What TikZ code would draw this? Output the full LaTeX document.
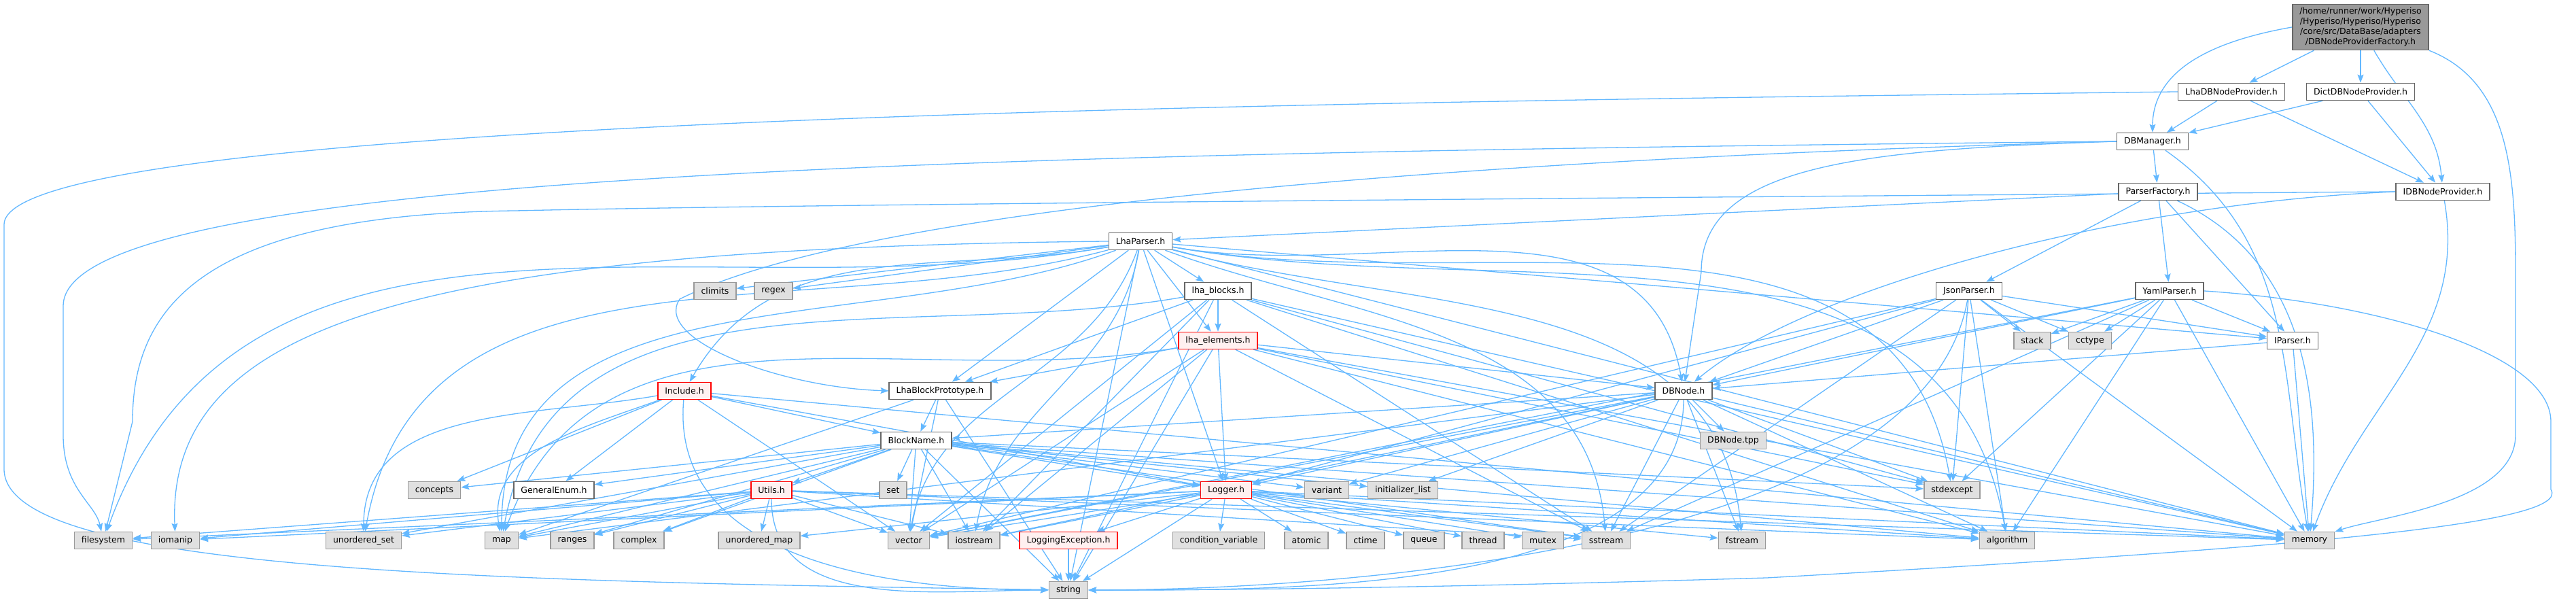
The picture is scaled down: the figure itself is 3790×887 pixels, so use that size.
\documentclass[tikz,border=0pt]{standalone}
\usepackage{fontspec}
\setmainfont{DejaVu Sans}
\usetikzlibrary{arrows.meta}
\definecolor{edgeblue}{HTML}{63B8FF}
\definecolor{sysfill}{HTML}{E0E0E0}
\definecolor{sysline}{HTML}{999999}
\definecolor{hdrline}{HTML}{666666}
\definecolor{rootfill}{HTML}{999999}
\definecolor{errfill}{HTML}{FFF0F0}
\pgfdeclarelayer{background}
\pgfsetlayers{background,main}
\tikzset{
  filebox/.style={draw, line width=0.15pt, minimum height=2.5pt, inner xsep=1.05pt,
    inner ysep=0pt, font=\fontsize{1.25}{1.5}\selectfont},
  hdrbox/.style={filebox, draw=hdrline, fill=white},
  sysbox/.style={filebox, draw=sysline, fill=sysfill},
  errbox/.style={filebox, draw=red, fill=errfill},
  rootbox/.style={filebox, draw=hdrline, fill=rootfill, align=center, inner ysep=0.5pt},
  dep/.style={draw=edgeblue, line width=0.13pt, -{Stealth[length=1.2pt,width=0.9pt,inset=0.2pt]}},
}

\begin{document}
\begin{tikzpicture}[x=0.1pt,y=0.1pt]
  \useasboundingbox (0,0) rectangle (3790,-887);
  % headers of the project
  \node[rootbox] (root) at (3473,-40) {/home/runner/work/Hyperiso\\/Hyperiso/Hyperiso/Hyperiso\\/core/src/DataBase/adapters\\/DBNodeProviderFactory.h};
  \node[hdrbox] (ldp) at (3283,-135) {LhaDBNodeProvider.h};
  \node[hdrbox] (ddp) at (3473,-135) {DictDBNodeProvider.h};
  \node[hdrbox] (dbm) at (3167,-208) {DBManager.h};
  \node[hdrbox] (pf) at (3175,-282) {ParserFactory.h};
  \node[hdrbox] (idp) at (3594,-282) {IDBNodeProvider.h};
  \node[hdrbox] (lp) at (1678,-355) {LhaParser.h};
  \node[hdrbox] (lb) at (1792,-428) {lha\_blocks.h};
  \node[hdrbox] (jp) at (2897,-428) {JsonParser.h};
  \node[hdrbox] (yp) at (3192,-428) {YamlParser.h};
  \node[errbox] (le) at (1792,-501) {lha\_elements.h};
  \node[hdrbox] (ip) at (3373,-501) {IParser.h};
  \node[errbox] (inc) at (1007,-575) {Include.h};
  \node[hdrbox] (lbp) at (1383,-575) {LhaBlockPrototype.h};
  \node[hdrbox] (dbn) at (2477,-575) {DBNode.h};
  \node[hdrbox] (bn) at (1348,-648) {BlockName.h};
  \node[hdrbox] (genum) at (815,-721) {GeneralEnum.h};
  \node[errbox] (utils) at (1135,-721) {Utils.h};
  \node[errbox] (logger) at (1804,-721) {Logger.h};
  \node[errbox] (logexc) at (1572,-795) {LoggingException.h};
  % system headers
  \node[sysbox] (climits) at (1052,-428) {climits};
  \node[sysbox] (regex) at (1138,-428) {regex};
  \node[sysbox] (stack) at (2990,-501) {stack};
  \node[sysbox] (cctype) at (3075,-501) {cctype};
  \node[sysbox] (tpp) at (2550,-648) {DBNode.tpp};
  \node[sysbox] (concepts) at (639,-721) {concepts};
  \node[sysbox] (set) at (1314,-721) {set};
  \node[sysbox] (variant) at (1952,-721) {variant};
  \node[sysbox] (initlist) at (2064,-721) {initializer\_list};
  \node[sysbox] (stdexcept) at (2872,-721) {stdexcept};
  \node[sysbox] (filesystem) at (152,-795) {filesystem};
  \node[sysbox] (iomanip) at (258,-795) {iomanip};
  \node[sysbox] (uset) at (535,-795) {unordered\_set};
  \node[sysbox] (map) at (738,-795) {map};
  \node[sysbox] (ranges) at (842,-795) {ranges};
  \node[sysbox] (complex) at (940,-795) {complex};
  \node[sysbox] (umap) at (1117,-795) {unordered\_map};
  \node[sysbox] (vector) at (1337,-795) {vector};
  \node[sysbox] (iostream) at (1433,-795) {iostream};
  \node[sysbox] (condvar) at (1793,-795) {condition\_variable};
  \node[sysbox] (atomic) at (1922,-795) {atomic};
  \node[sysbox] (ctime) at (2009,-795) {ctime};
  \node[sysbox] (queue) at (2095,-795) {queue};
  \node[sysbox] (thread) at (2182,-795) {thread};
  \node[sysbox] (mutex) at (2270,-795) {mutex};
  \node[sysbox] (sstream) at (2363,-795) {sstream};
  \node[sysbox] (fstream) at (2563,-795) {fstream};
  \node[sysbox] (algorithm) at (2953,-795) {algorithm};
  \node[sysbox] (memory) at (3398,-795) {memory};
  \node[sysbox] (string) at (1572,-868) {string};

  \begin{pgfonlayer}{background}
  \fill[white] (0,0) rectangle (3790,-887);
  % DBNodeProviderFactory.h
  \draw[dep] (root.west) to[out=190,in=90] (dbm);
  \draw[dep] (root) -- (ldp);
  \draw[dep] (root) -- (ddp);
  \draw[dep] (root) to[out=-60,in=95] (idp);
  \draw[dep] (root.south east) .. controls (3690,-120) and (3701,-250) .. (3701,-400) -- (3701,-640) .. controls (3701,-740) and (3500,-760) .. (memory);
  % LhaDBNodeProvider.h
  \draw[dep] (ldp) -- (dbm);
  \draw[dep] (ldp) -- (idp);
  \draw[dep] (ldp.west) .. controls (2000,-150) and (8,-170) .. (6,-330) -- (6,-690) .. controls (6,-840) and (700,-855) .. (string);
  % DictDBNodeProvider.h
  \draw[dep] (ddp) -- (dbm);
  \draw[dep] (ddp) -- (idp);
  % DBManager.h
  \draw[dep] (dbm) -- (pf);
  \draw[dep] (dbm.west) .. controls (2750,-220) and (2503,-240) .. (2503,-400) -- (dbn);
  \draw[dep] (dbm.west) .. controls (2300,-230) and (1300,-290) .. (1000,-440) .. controls (960,-500) and (1150,-570) .. (lbp.west);
  \draw[dep] (dbm.west) .. controls (1500,-225) and (93,-250) .. (93,-450) -- (93,-640) .. controls (93,-720) and (140,-740) .. (filesystem);
  \draw[dep] (dbm) to[out=-35,in=100] (memory);
  % ParserFactory.h
  \draw[dep] (pf) -- (lp);
  \draw[dep] (pf) -- (jp);
  \draw[dep] (pf) -- (yp);
  \draw[dep] (pf) -- (ip);
  \draw[dep] (pf) to[out=-25,in=85] (memory);
  % IDBNodeProvider.h
  \draw[dep] (idp.west) .. controls (3100,-300) and (2650,-430) .. (dbn);
  \draw[dep] (idp) to[out=-80,in=70] (memory);
  \draw[dep] (idp.west) .. controls (2500,-290) and (1200,-300) .. (760,-310) .. controls (300,-315) and (195,-450) .. (195,-620) -- (filesystem);
  % LhaParser.h
  \draw[dep] (lp) -- (lb);
  \draw[dep] (lp) -- (le);
  \draw[dep] (lp) -- (lbp);
  \draw[dep] (lp) to[out=-10,in=100] (dbn);
  \draw[dep] (lp) to[out=190,in=60] (inc);
  \draw[dep] (lp) -- (logger);
  \draw[dep] (lp) -- (ip);
  \draw[dep] (lp) -- (climits);
  \draw[dep] (lp) -- (regex);
  \draw[dep] (lp) to[out=190,in=70] (filesystem);
  \draw[dep] (lp.west) .. controls (600,-365) and (245,-480) .. (iomanip);
  \draw[dep] (lp) to[out=195,in=80] (uset);
  \draw[dep] (lp) to[out=200,in=90] (map);
  \draw[dep] (lp) to[out=-110,in=80] (vector);
  \draw[dep] (lp) -- (string);
  \draw[dep] (lp) to[out=-20,in=95] (sstream);
  \draw[dep] (lp) to[out=-15,in=95] (fstream);
  \draw[dep] (lp) -- (memory);
  \draw[dep] (lp) to[out=-10,in=100] (algorithm);
  \draw[dep] (lp) to[out=-10,in=100] (stdexcept);
  \draw[dep] (lp) to[out=-100,in=80] (iostream);
  % lha_blocks.h
  \draw[dep] (lb) -- (le);
  \draw[dep] (lb) -- (lbp);
  \draw[dep] (lb) -- (memory);
  \draw[dep] (lb) -- (string);
  \draw[dep] (lb) -- (vector);
  \draw[dep] (lb) to[out=190,in=80] (map);
  \draw[dep] (lb) -- (algorithm);
  \draw[dep] (lb) -- (stdexcept);
  \draw[dep] (lb) -- (sstream);
  \draw[dep] (lb) -- (iostream);
  % lha_elements.h
  \draw[dep] (le) -- (lbp);
  \draw[dep] (le) -- (dbn);
  \draw[dep] (le) -- (logger);
  \draw[dep] (le) -- (vector);
  \draw[dep] (le) -- (iostream);
  \draw[dep] (le) -- (string);
  \draw[dep] (le) -- (sstream);
  \draw[dep] (le) -- (memory);
  \draw[dep] (le) to[out=190,in=70] (map);
  \draw[dep] (le) -- (stdexcept);
  \draw[dep] (le) -- (algorithm);
  % Include.h
  \draw[dep] (inc) -- (bn);
  \draw[dep] (inc) -- (concepts);
  \draw[dep] (inc) -- (genum);
  \draw[dep] (inc) to[out=190,in=90] (uset);
  \draw[dep] (inc) to[out=200,in=100] (map);
  \draw[dep] (inc) -- (vector);
  \draw[dep] (inc) to[out=-95,in=180] (string);
  \draw[dep] (inc) -- (memory);
  \draw[dep] (inc) -- (logger);
  % LhaBlockPrototype.h
  \draw[dep] (lbp) -- (bn);
  \draw[dep] (lbp) -- (vector);
  \draw[dep] (lbp) -- (string);
  \draw[dep] (lbp) -- (map);
  % BlockName.h
  \draw[dep] (bn) -- (concepts);
  \draw[dep] (bn) -- (genum);
  \draw[dep] (bn) -- (utils);
  \draw[dep] (bn) -- (set);
  \draw[dep] (bn) -- (logger);
  \draw[dep] (bn) -- (variant);
  \draw[dep] (bn) -- (initlist);
  \draw[dep] (bn) -- (stdexcept);
  \draw[dep] (bn) -- (vector);
  \draw[dep] (bn) -- (iostream);
  \draw[dep] (bn) -- (string);
  \draw[dep] (bn) -- (map);
  \draw[dep] (bn) -- (uset);
  \draw[dep] (bn) -- (complex);
  \draw[dep] (bn) -- (ranges);
  \draw[dep] (bn) -- (algorithm);
  \draw[dep] (bn) -- (memory);
  \draw[dep] (bn) -- (sstream);
  % Utils.h
  \draw[dep] (utils) -- (filesystem);
  \draw[dep] (utils) -- (iomanip);
  \draw[dep] (utils) -- (uset);
  \draw[dep] (utils) -- (map);
  \draw[dep] (utils) -- (ranges);
  \draw[dep] (utils) -- (complex);
  \draw[dep] (utils) -- (umap);
  \draw[dep] (utils) -- (vector);
  \draw[dep] (utils) -- (iostream);
  \draw[dep] (utils) -- (algorithm);
  \draw[dep] (utils) -- (sstream);
  \draw[dep] (utils) -- (memory);
  \draw[dep] (utils) to[out=-90,in=180] (string);
  % Logger.h
  \draw[dep] (logger) -- (logexc);
  \draw[dep] (logger) -- (condvar);
  \draw[dep] (logger) -- (atomic);
  \draw[dep] (logger) -- (ctime);
  \draw[dep] (logger) -- (queue);
  \draw[dep] (logger) -- (thread);
  \draw[dep] (logger) -- (mutex);
  \draw[dep] (logger) -- (sstream);
  \draw[dep] (logger) -- (fstream);
  \draw[dep] (logger) -- (vector);
  \draw[dep] (logger) -- (iostream);
  \draw[dep] (logger) -- (memory);
  \draw[dep] (logger) -- (filesystem);
  \draw[dep] (logger) -- (iomanip);
  \draw[dep] (logger) -- (umap);
  \draw[dep] (logger) -- (algorithm);
  \draw[dep] (logger) -- (string);
  \draw[dep] (logexc) -- (string);
  % DBNode.h
  \draw[dep] (dbn) -- (tpp);
  \draw[dep] (dbn) -- (bn);
  \draw[dep] (dbn) -- (logger);
  \draw[dep] (dbn) -- (variant);
  \draw[dep] (dbn) -- (initlist);
  \draw[dep] (dbn) -- (vector);
  \draw[dep] (dbn) -- (sstream);
  \draw[dep] (dbn) -- (fstream);
  \draw[dep] (dbn) -- (stdexcept);
  \draw[dep] (dbn) -- (algorithm);
  \draw[dep] (dbn) -- (memory);
  \draw[dep] (dbn) -- (map);
  \draw[dep] (dbn) -- (iostream);
  \draw[dep] (dbn) to[out=-90,in=0,looseness=0.8] (string);
  % JsonParser.h
  \draw[dep] (jp) -- (ip);
  \draw[dep] (jp) -- (dbn);
  \draw[dep] (jp) -- (stack);
  \draw[dep] (jp) -- (cctype);
  \draw[dep] (jp) -- (logger);
  \draw[dep] (jp) -- (memory);
  \draw[dep] (jp) -- (algorithm);
  \draw[dep] (jp) -- (stdexcept);
  \draw[dep] (jp) -- (sstream);
  \draw[dep] (jp) -- (vector);
  \draw[dep] (jp) to[out=-100,in=0,looseness=0.7] (string);
  % YamlParser.h
  \draw[dep] (yp) -- (ip);
  \draw[dep] (yp) -- (dbn);
  \draw[dep] (yp) -- (stack);
  \draw[dep] (yp) -- (cctype);
  \draw[dep] (yp) -- (stdexcept);
  \draw[dep] (yp) -- (memory);
  \draw[dep] (yp) -- (algorithm);
  \draw[dep] (yp) -- (sstream);
  \draw[dep] (yp) -- (vector);
  \draw[dep] (yp.east) .. controls (3500,-445) and (3753,-520) .. (3753,-620) -- (3753,-720) .. controls (3785,-770) and (3400,-805) .. (2600,-850) .. controls (2100,-865) and (1800,-868) .. (string.east);
  % IParser.h
  \draw[dep] (ip) -- (dbn);
  \draw[dep] (ip) -- (memory);
  \end{pgfonlayer}
\end{tikzpicture}
\end{document}
